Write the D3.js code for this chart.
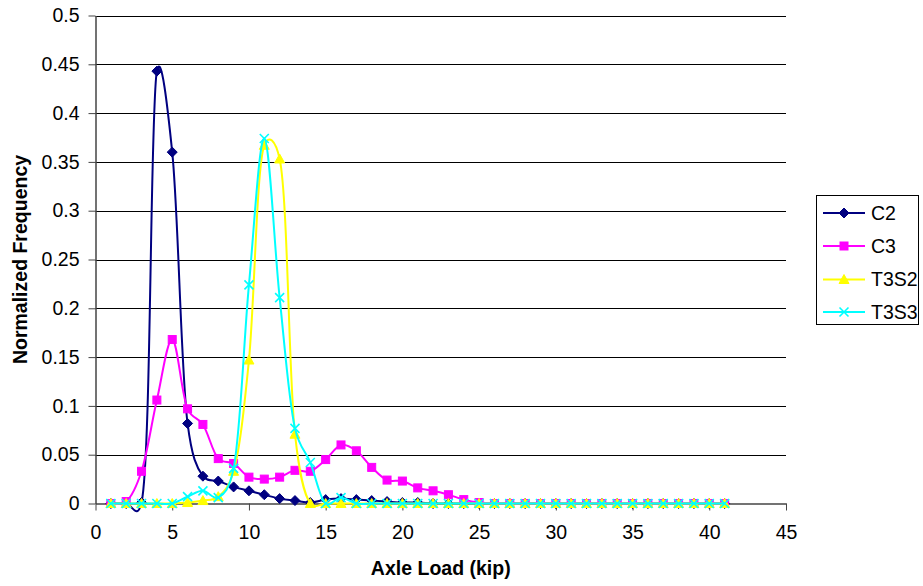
<!DOCTYPE html>
<html>
<head>
<meta charset="utf-8">
<script src="https://cdn.jsdelivr.net/npm/d3@7"></script>
<style>
  html, body { margin: 0; padding: 0; background: #fff; }
  svg { display: block; font-family: "Liberation Sans", Arial, sans-serif; }
</style>
</head>
<body>
<svg id="chart" width="923" height="586"></svg>
<script>
// ---- Data ----
const axleLoad = d3.range(1, 42); // 1..41 kip
const c2 = [0, 0, 0.001, 0.443, 0.36, 0.082, 0.028, 0.023, 0.017, 0.013,
            0.009, 0.005, 0.003, 0.001, 0.004, 0.005, 0.004, 0.003, 0.002, 0.001,
            0.001, 0, 0, 0, 0, 0, 0, 0, 0, 0,
            0, 0, 0, 0, 0, 0, 0, 0, 0, 0, 0];
const c3 = [0, 0.002, 0.033, 0.106, 0.168, 0.097, 0.081, 0.046, 0.041, 0.027,
            0.025, 0.027, 0.034, 0.033, 0.045, 0.060, 0.054, 0.037, 0.024, 0.023,
            0.016, 0.013, 0.009, 0.004, 0.001, 0, 0, 0, 0, 0,
            0, 0, 0, 0, 0, 0, 0, 0, 0, 0, 0];
const t3s2 = [0, 0, 0, 0, 0, 0.001, 0.003, 0.007, 0.033, 0.147,
              0.367, 0.353, 0.071, 0, 0, 0, 0, 0, 0, 0,
              0, 0, 0, 0, 0, 0, 0, 0, 0, 0,
              0, 0, 0, 0, 0, 0, 0, 0, 0, 0, 0];
const t3s3 = [0, 0, 0, 0, 0, 0.007, 0.013, 0.006, 0.036, 0.224,
              0.374, 0.211, 0.077, 0.042, 0, 0.006, 0, 0, 0, 0,
              0, 0, 0, 0, 0, 0, 0, 0, 0, 0,
              0, 0, 0, 0, 0, 0, 0, 0, 0, 0, 0];
const seriesNames = ["C2", "C3", "T3S2", "T3S3"];
const seriesValues = [c2, c3, t3s2, t3s3];
const seriesColors = ["#000080", "#FF00FF", "#FFFF00", "#00FFFF"];
const seriesSymbols = ["diamond", "square", "triangle", "cross"];
const xTicks = [0, 5, 10, 15, 20, 25, 30, 35, 40, 45];
const yTicks = [0, 0.05, 0.1, 0.15, 0.2, 0.25, 0.3, 0.35, 0.4, 0.45, 0.5];
const xTitle = "Axle Load (kip)";
const yTitle = "Normalized Frequency";

// ---- Layout ----
const svg = d3.select("#chart");
const L = 95.5, R = 786, T = 15.5, B = 503.5;
const x = d3.scaleLinear().domain([0, 45]).range([L, R]);
const y = d3.scaleLinear().domain([0, 0.5]).range([B, T]);
const FS = 19.5;

// gridlines
svg.append("g").selectAll("line").data(yTicks.filter(d => d > 0)).join("line")
  .attr("x1", L).attr("x2", R)
  .attr("y1", d => Math.round(y(d)) + 0.5).attr("y2", d => Math.round(y(d)) + 0.5)
  .attr("stroke", "#000").attr("stroke-width", 1);

// axes
const yAxis = svg.append("g").attr("transform", `translate(${L},0)`)
  .call(d3.axisLeft(y).tickValues(yTicks).tickFormat(d3.format("~g")).tickSize(7).tickSizeOuter(0).tickPadding(9));
const xAxis = svg.append("g").attr("transform", `translate(0,${B})`)
  .call(d3.axisBottom(x).tickValues(xTicks).tickFormat(d3.format("d")).tickSize(7).tickSizeOuter(0).tickPadding(15));
[xAxis, yAxis].forEach(a => {
  a.selectAll("path.domain").attr("stroke", "#444").attr("stroke-width", 1.5);
  a.selectAll(".tick line").attr("stroke", "#444");
  a.selectAll("text").attr("font-size", FS).attr("fill", "#000")
   .attr("font-family", '"Liberation Sans", Arial, sans-serif');
});

// titles
svg.append("text").attr("x", (L + R) / 2).attr("y", 568).attr("dy", "0.35em")
  .attr("text-anchor", "middle").attr("font-weight", "bold").attr("font-size", FS)
  .text(xTitle);
svg.append("text").attr("transform", `translate(20,${(T + B) / 2}) rotate(-90)`)
  .attr("dy", "0.35em").attr("text-anchor", "middle").attr("font-weight", "bold")
  .attr("font-size", FS).text(yTitle);

// symbols
function drawMarker(g, type, color, cx, cy) {
  if (type === "diamond") {
    g.append("path").attr("d", `M${cx},${cy-5}L${cx+5},${cy}L${cx},${cy+5}L${cx-5},${cy}Z`)
      .attr("fill", color).attr("stroke", color);
  } else if (type === "square") {
    g.append("rect").attr("x", cx - 4).attr("y", cy - 4).attr("width", 8).attr("height", 8)
      .attr("fill", color).attr("stroke", color);
  } else if (type === "triangle") {
    g.append("path").attr("d", `M${cx},${cy-5}L${cx+5},${cy+4}L${cx-5},${cy+4}Z`)
      .attr("fill", color).attr("stroke", color);
  } else {
    g.append("path").attr("d", `M${cx-4.5},${cy-4.5}L${cx+4.5},${cy+4.5}M${cx+4.5},${cy-4.5}L${cx-4.5},${cy+4.5}`)
      .attr("fill", "none").attr("stroke", color).attr("stroke-width", 1.6);
  }
}

// series
const line = d3.line().x(d => x(d[0])).y(d => y(d[1])).curve(d3.curveCatmullRom.alpha(0.25));
seriesValues.forEach((vals, i) => {
  const pts = axleLoad.map((a, j) => [a, vals[j]]);
  const g = svg.append("g");
  g.append("path").datum(pts).attr("d", line)
    .attr("fill", "none").attr("stroke", seriesColors[i]).attr("stroke-width", 2);
  pts.forEach(p => drawMarker(g, seriesSymbols[i], seriesColors[i], x(p[0]), y(p[1])));
});

// legend
const lg = svg.append("g");
lg.append("rect").attr("x", 816.5).attr("y", 195.5).attr("width", 102).attr("height", 129)
  .attr("fill", "#fff").attr("stroke", "#000").attr("stroke-width", 1);
const legendY = [213, 246, 279.5, 312];
seriesNames.forEach((n, i) => {
  const yy = legendY[i];
  lg.append("line").attr("x1", 823).attr("x2", 865).attr("y1", yy).attr("y2", yy)
    .attr("stroke", seriesColors[i]).attr("stroke-width", 2);
  drawMarker(lg, seriesSymbols[i], seriesColors[i], 844, yy);
  lg.append("text").attr("x", 871).attr("y", yy).attr("dy", "0.35em")
    .attr("font-size", FS).text(n);
});
</script>
</body>
</html>
